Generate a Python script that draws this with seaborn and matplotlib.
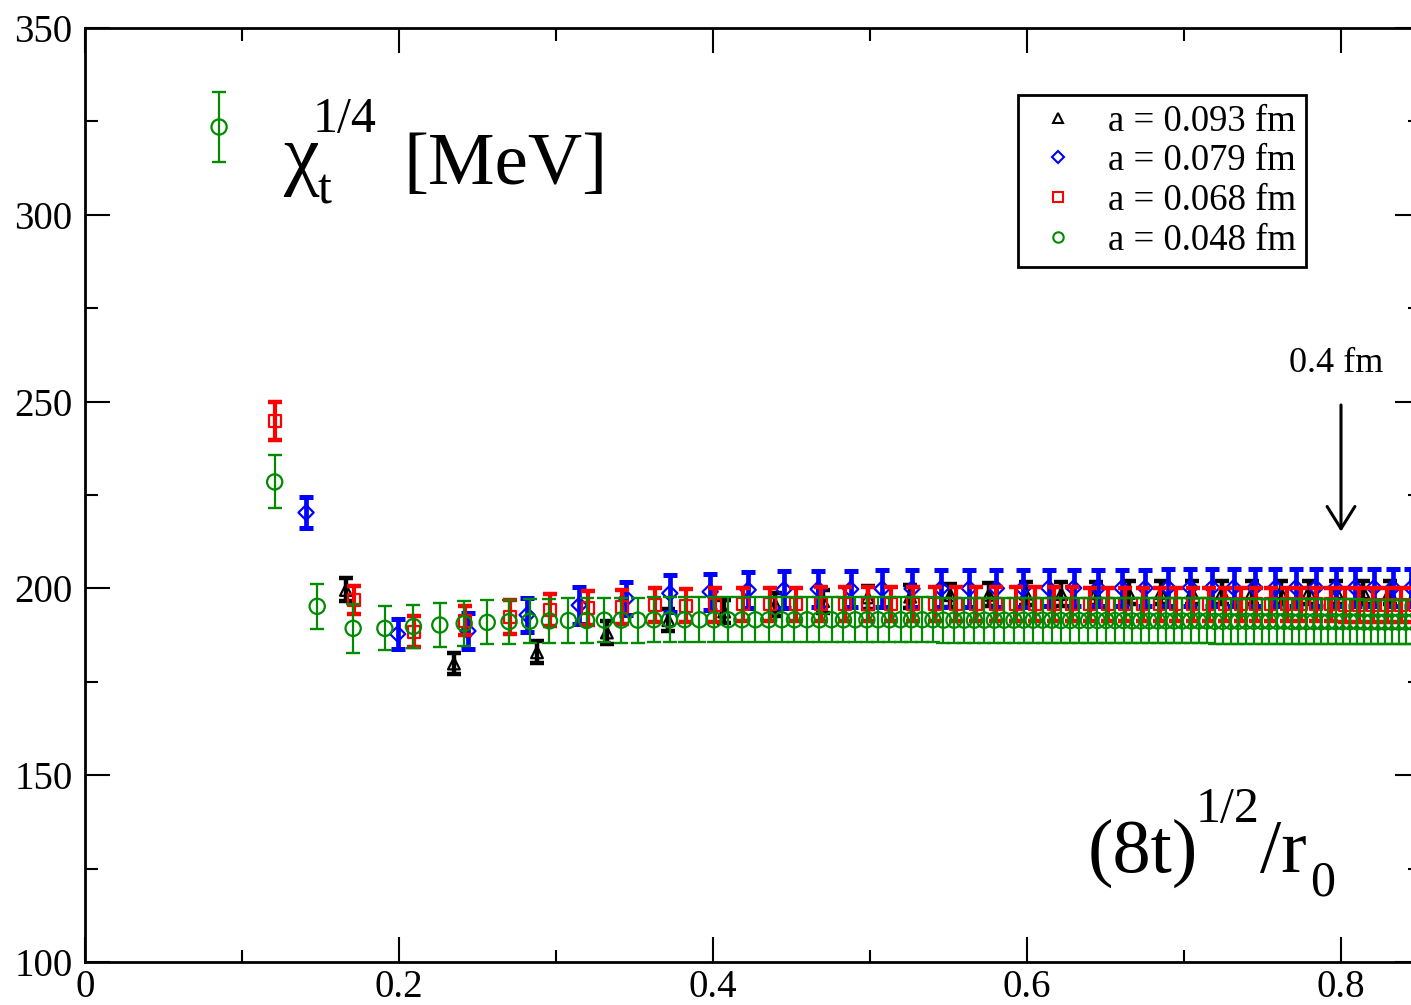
import numpy as np
import pandas as pd
import matplotlib
matplotlib.use("Agg")
import matplotlib.pyplot as plt
import seaborn as sns
from matplotlib.lines import Line2D
from matplotlib.ticker import MultipleLocator, FixedLocator, FixedFormatter

# ---------------- data ----------------
labels = ["a = 0.093 fm", "a = 0.079 fm", "a = 0.068 fm", "a = 0.048 fm"]

x_093 = [0.1662, 0.2350, 0.2879, 0.3324, 0.3716, 0.4071, 0.4397, 0.4701, 0.4986, 0.5256,
         0.5512, 0.5757, 0.5993, 0.6219, 0.6437, 0.6648, 0.6853, 0.7051, 0.7244, 0.7433,
         0.7616, 0.7795, 0.7971, 0.8142, 0.8310, 0.8475]
y_093 = [199.6, 179.9, 182.9, 188.2, 191.5, 193.8, 195.6, 196.6, 197.6, 197.8,
         198.2, 198.3, 198.6, 198.5, 198.7, 198.8, 198.8, 198.9, 198.9, 198.9,
         199.0, 199.0, 199.0, 199.0, 199.0, 199.0]
e_093 = [3.1, 2.9, 3.0, 3.0, 3.0, 3.1, 3.1, 3.1, 3.1, 3.1,
         3.1, 3.1, 3.1, 3.1, 3.1, 3.1, 3.1, 3.1, 3.1, 3.1,
         3.1, 3.1, 3.1, 3.1, 3.1, 3.1]

x_079 = [0.1408, 0.1991, 0.2439, 0.2816, 0.3148, 0.3449, 0.3725, 0.3982, 0.4224, 0.4452,
         0.4670, 0.4877, 0.5077, 0.5268, 0.5453, 0.5632, 0.5805, 0.5974, 0.6137, 0.6297,
         0.6452, 0.6604, 0.6752, 0.6898, 0.7040, 0.7179, 0.7316, 0.7450, 0.7582, 0.7712,
         0.7839, 0.7965, 0.8088, 0.8210, 0.8330, 0.8448]
y_079 = [220.3, 187.8, 188.6, 192.9, 195.5, 197.3, 198.7, 199.1, 199.6, 199.7,
         199.8, 199.8, 199.9, 199.9, 200.0, 200.0, 200.0, 200.0, 200.1, 200.1,
         200.1, 200.1, 200.1, 200.2, 200.2, 200.2, 200.2, 200.2, 200.2, 200.2,
         200.2, 200.2, 200.2, 200.2, 200.2, 200.2]
e_079 = [4.2, 4.0, 4.7, 4.5, 4.9, 4.5, 4.9, 4.8, 4.8, 4.9,
         4.9, 4.9, 4.9, 4.9, 4.9, 4.9, 4.9, 4.9, 4.9, 4.9,
         4.9, 4.9, 4.9, 4.9, 4.9, 4.9, 4.9, 4.9, 4.9, 4.9,
         4.9, 4.9, 4.9, 4.9, 4.9, 4.9]

x_068 = [0.1210, 0.1711, 0.2096, 0.2420, 0.2706, 0.2964, 0.3201, 0.3422, 0.3630, 0.3826,
         0.4013, 0.4192, 0.4363, 0.4527, 0.4686, 0.4840, 0.4989, 0.5134, 0.5274, 0.5411,
         0.5545, 0.5675, 0.5803, 0.5928, 0.6050, 0.6170, 0.6287, 0.6403, 0.6516, 0.6627,
         0.6737, 0.6845, 0.6951, 0.7056, 0.7158, 0.7260, 0.7360, 0.7459, 0.7556, 0.7653,
         0.7748, 0.7842, 0.7934, 0.8026, 0.8117, 0.8207, 0.8295, 0.8383, 0.8470]
y_068 = [244.9, 196.9, 188.4, 191.3, 192.4, 194.2, 194.7, 195.1, 195.6, 195.4,
         195.6, 195.7, 195.7, 195.7, 195.8, 195.8, 195.8, 195.8, 195.8, 195.8,
         195.8, 195.8, 195.8, 195.8, 195.8, 195.8, 195.8, 195.7, 195.7, 195.7,
         195.7, 195.7, 195.7, 195.7, 195.7, 195.7, 195.7, 195.7, 195.7, 195.7,
         195.7, 195.7, 195.7, 195.6, 195.6, 195.6, 195.6, 195.6, 195.6]
e_068 = [5.1, 3.8, 4.1, 3.9, 4.5, 4.2, 4.5, 4.5, 4.5, 4.5,
         4.5, 4.5, 4.5, 4.5, 4.5, 4.5, 4.5, 4.5, 4.5, 4.5,
         4.5, 4.5, 4.5, 4.5, 4.5, 4.5, 4.5, 4.5, 4.5, 4.5,
         4.5, 4.5, 4.5, 4.5, 4.5, 4.5, 4.5, 4.5, 4.5, 4.5,
         4.5, 4.5, 4.5, 4.5, 4.5, 4.5, 4.5, 4.5, 4.5]

x_048 = [0.0854, 0.1208, 0.1479, 0.1708, 0.1910, 0.2092, 0.2260, 0.2415, 0.2562, 0.2701,
         0.2832, 0.2958, 0.3079, 0.3195, 0.3308, 0.3416, 0.3521, 0.3623, 0.3723, 0.3819,
         0.3914, 0.4006, 0.4096, 0.4184, 0.4270, 0.4355, 0.4438, 0.4519, 0.4599, 0.4678,
         0.4755, 0.4831, 0.4906, 0.4980, 0.5052, 0.5124, 0.5195, 0.5264, 0.5333, 0.5401,
         0.5468, 0.5535, 0.5600, 0.5665, 0.5729, 0.5792, 0.5855, 0.5917, 0.5978, 0.6039,
         0.6099, 0.6158, 0.6217, 0.6276, 0.6333, 0.6391, 0.6448, 0.6504, 0.6560, 0.6615,
         0.6670, 0.6724, 0.6778, 0.6832, 0.6885, 0.6938, 0.6990, 0.7042, 0.7094, 0.7145,
         0.7196, 0.7246, 0.7297, 0.7346, 0.7396, 0.7445, 0.7494, 0.7542, 0.7591, 0.7638,
         0.7686, 0.7733, 0.7780, 0.7827, 0.7873, 0.7920, 0.7966, 0.8011, 0.8057, 0.8102,
         0.8147, 0.8191, 0.8236, 0.8280, 0.8324, 0.8367, 0.8411, 0.8454]
y_048 = [323.5, 228.5, 195.2, 189.3, 189.3, 189.8, 190.2, 190.6, 190.9, 191.1,
         191.2, 191.3, 191.4, 191.4, 191.5, 191.5, 191.5, 191.6, 191.6, 191.6,
         191.6, 191.6, 191.6, 191.6, 191.6, 191.6, 191.6, 191.6, 191.6, 191.6,
         191.6, 191.6, 191.6, 191.6, 191.6, 191.6, 191.6, 191.6, 191.6, 191.6,
         191.5, 191.5, 191.5, 191.5, 191.5, 191.5, 191.5, 191.5, 191.5, 191.5,
         191.5, 191.5, 191.4, 191.4, 191.4, 191.4, 191.4, 191.4, 191.4, 191.4,
         191.3, 191.3, 191.3, 191.3, 191.3, 191.3, 191.3, 191.3, 191.3, 191.3,
         191.2, 191.2, 191.2, 191.2, 191.2, 191.2, 191.2, 191.2, 191.2, 191.2,
         191.1, 191.1, 191.1, 191.1, 191.1, 191.1, 191.1, 191.1, 191.1, 191.1,
         191.0, 191.0, 191.0, 191.0, 191.0, 191.0, 191.0, 191.0]
e_048 = [9.4, 7.1, 6.1, 6.5, 5.9, 5.8, 5.9, 5.9, 5.9, 5.9,
         5.9, 5.9, 5.9, 5.9, 5.9, 6.0, 6.0, 6.0, 6.0, 6.0,
         6.0, 6.0, 6.0, 6.0, 6.0, 6.0, 6.0, 6.0, 6.0, 6.0,
         6.0, 6.0, 6.0, 6.0, 6.0, 6.0, 6.0, 6.0, 6.0, 6.0,
         6.0, 6.0, 6.0, 6.0, 6.0, 6.0, 6.0, 6.0, 6.0, 6.0,
         6.0, 6.0, 6.0, 6.0, 6.0, 6.0, 6.0, 6.0, 6.0, 6.0,
         6.0, 6.0, 6.0, 6.0, 6.0, 6.0, 6.0, 6.0, 6.0, 6.0,
         6.0, 6.0, 6.0, 6.0, 6.0, 6.0, 6.0, 6.0, 6.0, 6.0,
         6.0, 6.0, 6.0, 6.0, 6.0, 6.0, 6.0, 6.0, 6.0, 6.0,
         6.0, 6.0, 6.0, 6.0, 6.0, 6.0, 6.0, 6.0]

x_ticks = [0.0, 0.2, 0.4, 0.6, 0.8]
x_ticklabels = ["0", "0.2", "0.4", "0.6", "0.8"]
y_ticks = [100, 150, 200, 250, 300, 350]
y_ticklabels = ["100", "150", "200", "250", "300", "350"]

arrow_x = 0.8
arrow_from = 249.1
arrow_to = 215.2
arrow_label = "0.4 fm"

# ---------------- styling ----------------
sns.set_theme(style="ticks")
plt.rcParams["font.family"] = ["Liberation Serif", "DejaVu Serif"]
plt.rcParams["text.color"] = "black"
plt.rcParams["axes.labelcolor"] = "black"
plt.rcParams["xtick.color"] = "black"
plt.rcParams["ytick.color"] = "black"

W, H = 1411, 1005
fig = plt.figure(figsize=(W / 100, H / 100), dpi=100)
fig.patch.set_facecolor("white")


def fx(p):
    return p / W


def fy(p):
    return 1 - p / H


ax = fig.add_axes([fx(85), 43 / H, 1334.5 / W, 934 / H])
ax.set_facecolor("white")

series = [
    (labels[0], x_093, y_093, e_093, "black", "^", 72, 3.2, 4.7, 3.2, 2),
    (labels[1], x_079, y_079, e_079, "#0000ff", "D", 60, 3.4, 4.7, 3.6, 3),
    (labels[2], x_068, y_068, e_068, "#ff0000", "s", 75, 3.0, 4.7, 3.2, 4),
    (labels[3], x_048, y_048, e_048, "#008b00", "o", 120, 1.6, 4.7, 1.7, 5),
]

handles = []
for lab, xs, ys, es, col, mk, s, elw, cs, ct, z in series:
    df = pd.DataFrame({"x": xs, "y": ys, "err": es})
    ax.errorbar(df["x"], df["y"], yerr=df["err"], fmt="none", ecolor=col,
                elinewidth=elw, capsize=cs, capthick=ct, zorder=z)
    sns.scatterplot(data=df, x="x", y="y", marker=mk, s=s, facecolor="none",
                    edgecolor=col, linewidth=1.6, ax=ax, zorder=z + 0.5,
                    legend=False, clip_on=True)
    handles.append(Line2D([], [], linestyle="none", marker=mk, markersize=7.5 if mk != "D" else 6.3,
                          markerfacecolor="none", markeredgecolor=col,
                          markeredgewidth=1.5, label=lab))

ax.set_xlim(0, 0.85)
ax.set_ylim(100, 350)
ax.set_xlabel("")
ax.set_ylabel("")

ax.xaxis.set_major_locator(FixedLocator(x_ticks))
ax.xaxis.set_major_formatter(FixedFormatter(x_ticklabels))
ax.yaxis.set_major_locator(FixedLocator(y_ticks))
ax.yaxis.set_major_formatter(FixedFormatter(y_ticklabels))
ax.xaxis.set_minor_locator(MultipleLocator(0.1))
ax.yaxis.set_minor_locator(MultipleLocator(25))

ax.tick_params(which="both", direction="in", top=True, right=True,
               color="black", width=1.5)
ax.tick_params(which="major", length=18, labelsize=28, labelcolor="black")
ax.tick_params(axis="y", which="major", pad=9)
ax.tick_params(axis="x", which="major", pad=5)
ax.tick_params(which="minor", length=9)
for sp in ax.spines.values():
    sp.set_visible(True)
    sp.set_color("black")
    sp.set_linewidth(2.0)
ax.grid(False)

# legend
leg = ax.legend(handles=handles, loc="upper left",
                bbox_to_anchor=(fx(1018), fy(95)), bbox_transform=fig.transFigure,
                fontsize=26.5, frameon=True, fancybox=False, framealpha=1,
                edgecolor="black", borderpad=0.25, handlelength=1.7,
                handletextpad=0.5, labelspacing=0.14, borderaxespad=0,
                labelcolor="black")
leg.get_frame().set_linewidth(2.0)
leg.set_zorder(10)

# arrow annotation
ax.annotate("", xy=(arrow_x, arrow_to), xytext=(arrow_x, arrow_from),
            arrowprops=dict(arrowstyle="->,head_length=0.8,head_width=0.5",
                            lw=2.2, color="black", shrinkA=0, shrinkB=0,
                            mutation_scale=20))
ax.text(0.797, 257.9, arrow_label, ha="center", va="baseline", fontsize=26,
        color="black")

# y-axis title inside the plot (top-left)
fig.text(fx(283), fy(180), "\u03c7", fontsize=58, ha="left", va="baseline", color="black")
fig.text(fx(318), fy(203), "t", fontsize=36, ha="left", va="baseline", color="black")
fig.text(fx(313), fy(132), "1/4", fontsize=36, ha="left", va="baseline", color="black")
fig.text(fx(403), fy(184), "[MeV]", fontsize=54, ha="left", va="baseline", color="black")

# x-axis title inside the plot (bottom-right)
fig.text(fx(1088), fy(872), "(8t)", fontsize=55, ha="left", va="baseline", color="black")
fig.text(fx(1196), fy(822), "1/2", fontsize=36, ha="left", va="baseline", color="black")
fig.text(fx(1260), fy(872), "/r", fontsize=55, ha="left", va="baseline", color="black")
fig.text(fx(1310), fy(895), "0", fontsize=36, ha="left", va="baseline", color="black")

fig.savefig("out.png", dpi=100)
